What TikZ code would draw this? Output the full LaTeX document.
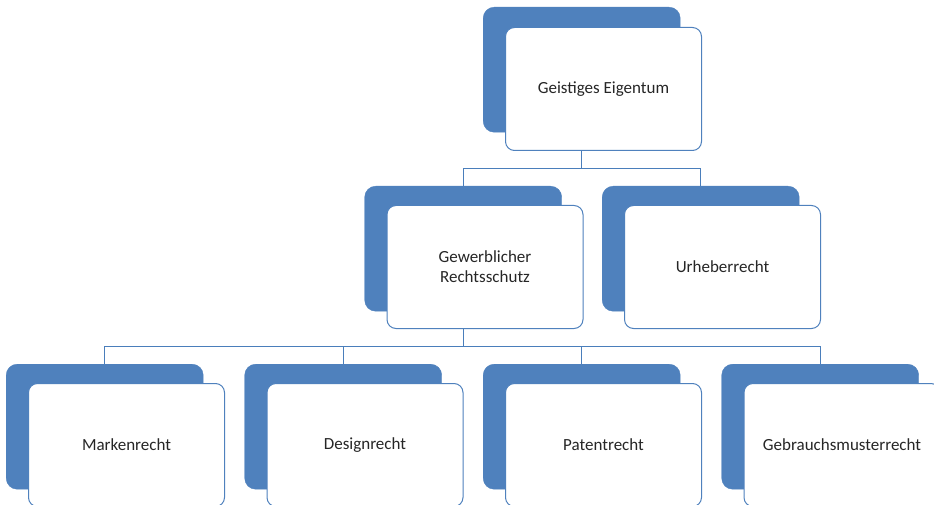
\documentclass[tikz,border=0pt]{standalone}
\usepackage{fontspec}
\setmainfont{Carlito}
\definecolor{accent}{HTML}{4F81BD}
\definecolor{linec}{HTML}{4A7EBB}
\tikzset{
  backbox/.style={draw=accent, fill=accent, rounded corners=11pt, minimum width=197pt, minimum height=125pt, anchor=north west, inner sep=0pt},
  frontbox/.style={draw=accent, line width=1pt, fill=white, rounded corners=9pt, minimum width=196pt, minimum height=123pt, anchor=north west, inner sep=0pt, align=center, font=\fontsize{17}{20}\selectfont, text=black!85},
  link/.style={draw=linec, line width=1pt}
}
\begin{document}
\begin{tikzpicture}[x=1pt,y=-1pt]
\useasboundingbox (0,0) rectangle (934,505);
% back boxes
\node[backbox] (topB) at (483,7) {};
\node[backbox] (gewB) at (364.5,186) {};
\node[backbox] (urhB) at (602,186) {};
\node[backbox] (marB) at (6,364) {};
\node[backbox] (desB) at (244.5,364) {};
\node[backbox] (patB) at (483,364) {};
\node[backbox] (gebB) at (721.5,364) {};
% front boxes
\node[frontbox] (topF) at (505,27) {Geistiges Eigentum};
\node[frontbox] (gewF) at (386.5,205) {Gewerblicher\\Rechtsschutz};
\node[frontbox] (urhF) at (624,205) {Urheberrecht};
\node[frontbox] (marF) at (28,383) {Markenrecht};
\node[frontbox] (desF) at (266.5,383) {Designrecht};
\node[frontbox] (patF) at (505,383) {Patentrecht};
\node[frontbox] (gebF) at (743.5,383) {Gebrauchsmusterrecht};
% bus coordinates
\coordinate (bus1) at (0,168.5);
\coordinate (bus2) at (0,346.5);
% connectors
\draw[link] (topB.north |- topF.south) -- (topB.north |- bus1) -| (gewB.north);
\draw[link] (topB.north |- bus1) -| (urhB.north);
\draw[link] (gewB.north |- gewF.south) -- (gewB.north |- bus2) -| (marB.north);
\draw[link] (gewB.north |- bus2) -| (desB.north);
\draw[link] (gewB.north |- bus2) -| (patB.north);
\draw[link] (gewB.north |- bus2) -| (gebB.north);
\end{tikzpicture}
\end{document}
